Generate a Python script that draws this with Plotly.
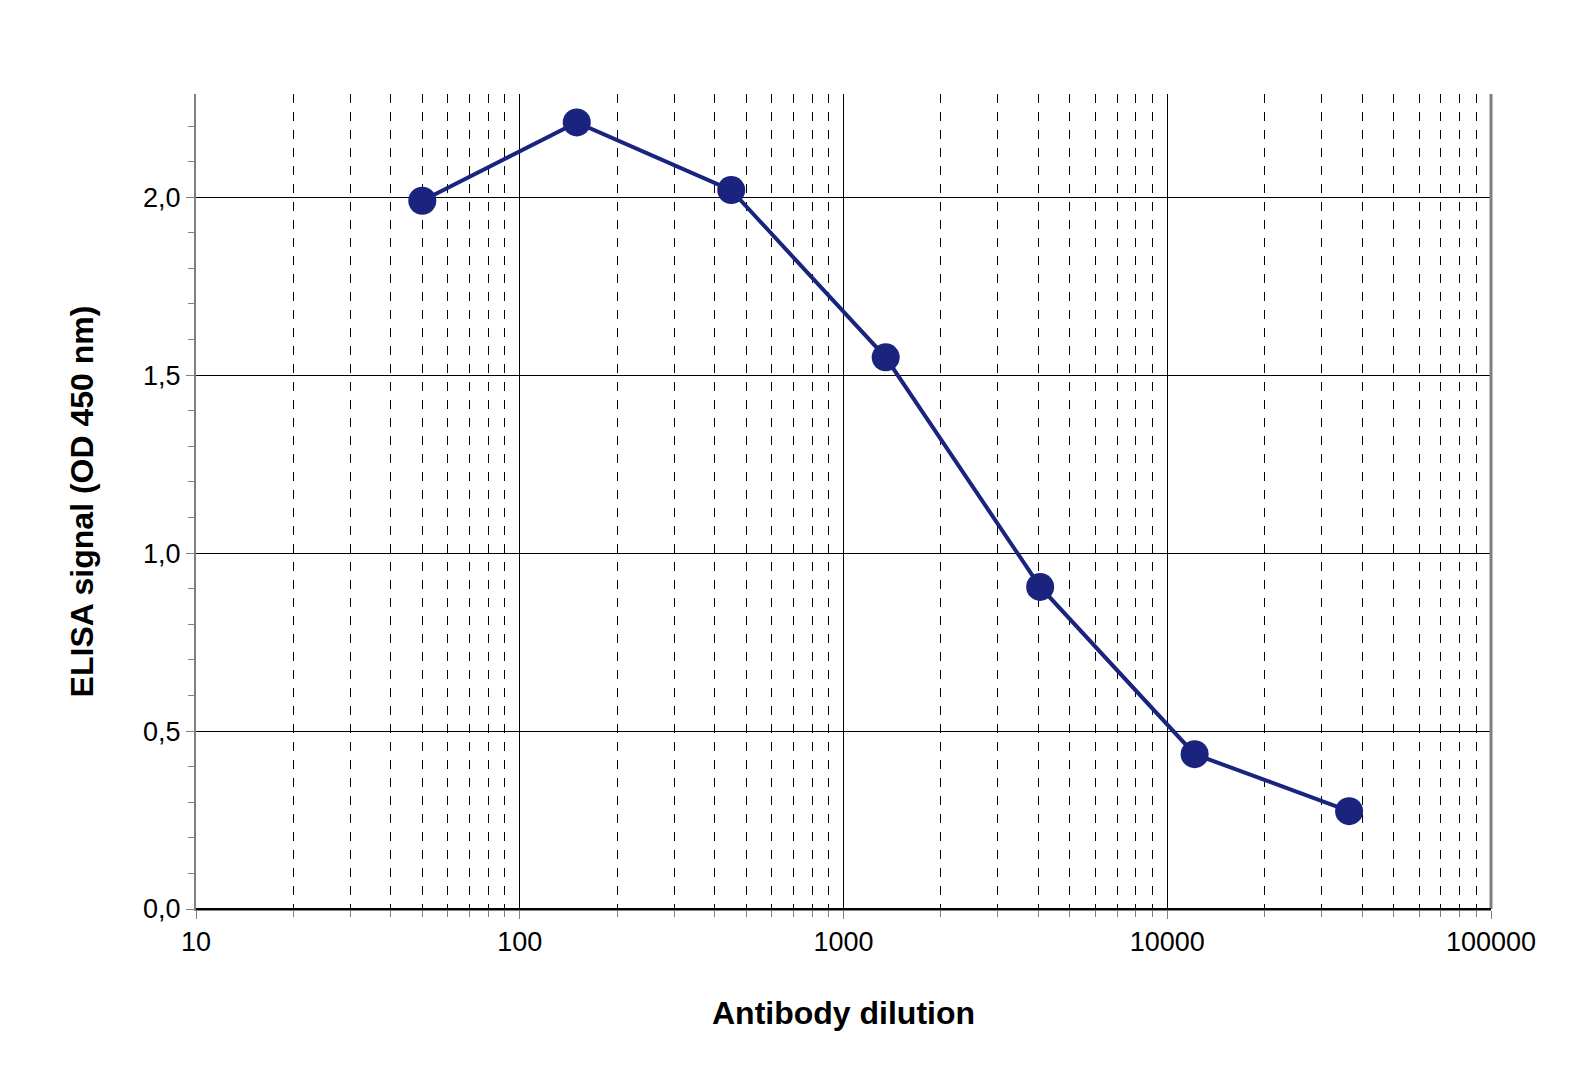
import plotly.graph_objects as go

dilution = [50, 150, 450, 1350, 4050, 12150, 36450]
signal = [1.99, 2.21, 2.02, 1.55, 0.905, 0.435, 0.275]
x_title = "Antibody dilution"
y_title = "ELISA signal (OD 450 nm)"
x_ticks = [10, 100, 1000, 10000, 100000]
x_minor = [m * d for d in [10, 100, 1000, 10000] for m in range(2, 10)]

fig = go.Figure(go.Scatter(
    x=dilution, y=signal, mode="lines+markers",
    line=dict(color="#1a237e", width=4),
    marker=dict(color="#1a237e", size=28),
))
font = "Liberation Sans, Arial, sans-serif"
fig.update_layout(
    width=1596, height=1067, plot_bgcolor="white", paper_bgcolor="white",
    margin=dict(l=188, r=113, t=86, b=166), showlegend=False,
    font=dict(family=font, size=27, color="black"),
)
fig.update_xaxes(
    type="log", range=[1, 5], tickvals=x_ticks, ticktext=[str(v) for v in x_ticks],
    showgrid=True, gridcolor="black", gridwidth=1,
    minor=dict(tickvals=x_minor, showgrid=True, gridcolor="black", griddash="dash",
               gridwidth=1, ticks="outside", ticklen=6, tickcolor="gray"),
    ticks="outside", ticklen=8, tickcolor="gray",
    showline=True, linecolor="gray", linewidth=2,
    title=dict(text=f"<b>{x_title}</b>", font=dict(size=32), standoff=45),
    zeroline=False,
)
fig.update_yaxes(
    range=[0, 2.29], tickvals=[0, 0.5, 1.0, 1.5, 2.0],
    ticktext=["0,0", "0,5", "1,0", "1,5", "2,0"],
    showgrid=True, gridcolor="black", gridwidth=1,
    minor=dict(dtick=0.1, ticks="outside", ticklen=6, tickcolor="gray", showgrid=False),
    ticks="outside", ticklen=8, tickcolor="gray",
    showline=True, linecolor="gray", linewidth=2, zeroline=False,
    title=dict(text=f"<b>{y_title}</b>", font=dict(size=32), standoff=40),
)
fig.add_shape(type="line", xref="paper", yref="paper", x0=1, x1=1, y0=0, y1=1,
              line=dict(color="gray", width=3))
fig.add_shape(type="line", xref="paper", yref="paper", x0=0, x1=1, y0=0, y1=0,
              line=dict(color="black", width=2))
fig.write_html("out.html")
